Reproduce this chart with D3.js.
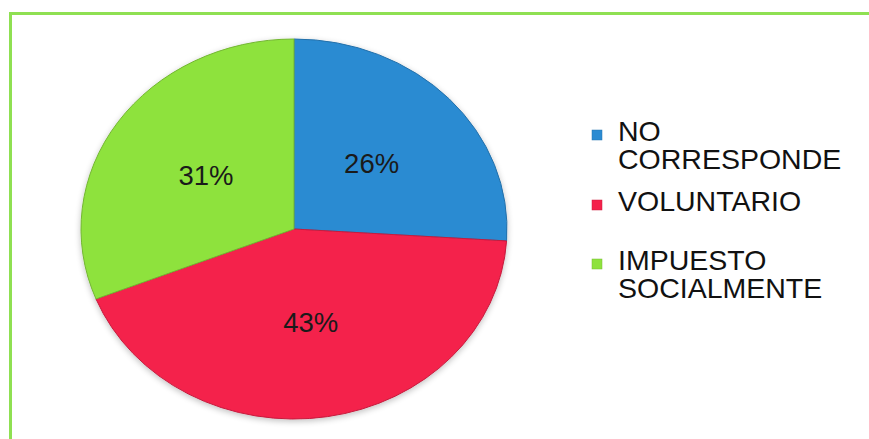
<!DOCTYPE html>
<html><head><meta charset="utf-8">
<script src="https://cdn.jsdelivr.net/npm/d3@7"></script>
<style>html,body{margin:0;padding:0;background:#fff;}svg{display:block;}</style>
</head><body>
<svg id="chart" width="869" height="439"></svg>
<script>
const categories = ["NO CORRESPONDE", "VOLUNTARIO", "IMPUESTO SOCIALMENTE"];
const legendLines = [["NO", "CORRESPONDE"], ["VOLUNTARIO"], ["IMPUESTO", "SOCIALMENTE"]];
const values = [26, 43, 31];
const labels = ["26%", "43%", "31%"];
const colors = ["#2b8bd2", "#f4214b", "#8ee23e"];

const svg = d3.select("#chart");
const defs = svg.append("defs");
const f = defs.append("filter").attr("id","sh").attr("x","-10%").attr("y","-10%").attr("width","120%").attr("height","120%");
f.append("feGaussianBlur").attr("in","SourceAlpha").attr("stdDeviation",3).attr("result","b");
f.append("feOffset").attr("in","b").attr("dx",0).attr("dy",2).attr("result","o");
f.append("feComponentTransfer").attr("in","o").attr("result","o2").append("feFuncA").attr("type","linear").attr("slope",0.25);
const m = f.append("feMerge"); m.append("feMergeNode").attr("in","o2"); m.append("feMergeNode").attr("in","SourceGraphic");

// frame
svg.append("rect").attr("x",10.5).attr("y",13.5).attr("width",900).attr("height",460)
  .attr("fill","none").attr("stroke","#8fe052").attr("stroke-width",3);

const cx = 294, cy = 229, rx = 213, ry = 190;
const pie = d3.pie().sort(null).value(d => d);
const arcs = pie(values);
const arc = d3.arc().innerRadius(0).outerRadius(ry);

const g = svg.append("g").attr("transform", `translate(${cx},${cy})`).attr("filter","url(#sh)");
const gs = g.append("g").attr("transform", `scale(${rx/ry},1)`);
gs.selectAll("path").data(arcs).join("path")
  .attr("d", arc)
  .attr("fill", (d,i) => colors[i])
  .attr("stroke", (d,i) => d3.color(colors[i]).darker(0.6))
  .attr("stroke-width", 1)
  .attr("vector-effect","non-scaling-stroke");

const tg = svg.append("g").attr("transform", `translate(${cx},${cy})`);
tg.selectAll("text").data(arcs).join("text")
  .attr("x", d => arc.centroid(d)[0] * rx/ry)
  .attr("y", d => arc.centroid(d)[1])
  .attr("text-anchor","middle").attr("dominant-baseline","central")
  .attr("font-family","Liberation Sans, Arial, sans-serif").attr("font-size",27.5)
  .attr("fill","#1a1a1a")
  .text((d,i) => labels[i]);

// legend
const legTop = [130, 200, 259];
const lg = svg.append("g");
legendLines.forEach((lines, i) => {
  lg.append("rect").attr("x",592).attr("y",legTop[i]).attr("width",10).attr("height",10)
    .attr("fill", colors[i]).attr("stroke", d3.color(colors[i]).darker(0.5)).attr("stroke-width",0.5);
  lines.forEach((ln, j) => {
    lg.append("text").attr("x",618).attr("y",legTop[i] + 11 + j * 28)
      .attr("font-family","Liberation Sans, Arial, sans-serif").attr("font-size",28.5)
      .attr("fill","#111").text(ln);
  });
});
</script>
</body></html>
